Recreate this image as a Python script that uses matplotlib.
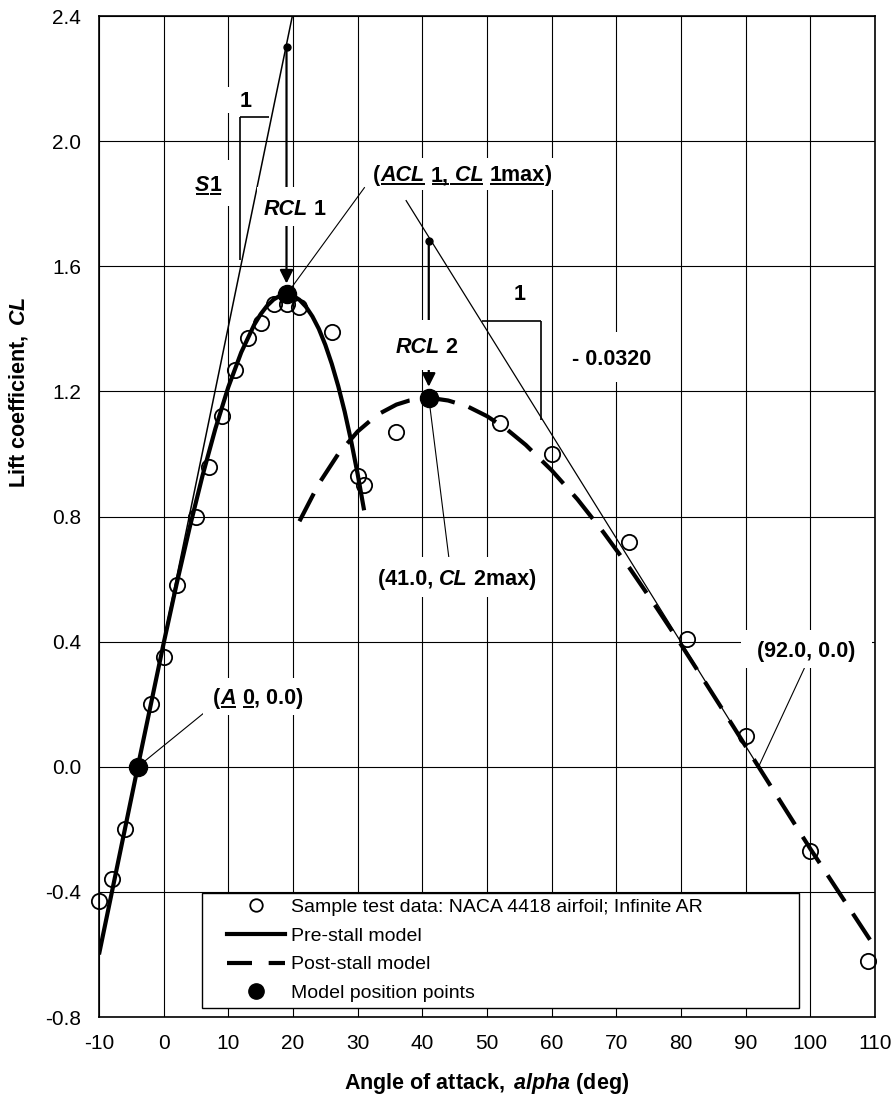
import numpy as np
import matplotlib
matplotlib.use("Agg")
import matplotlib.pyplot as plt
from matplotlib.lines import Line2D
from matplotlib.patches import Rectangle

plt.rcParams["font.family"] = ["Liberation Sans", "DejaVu Sans"]
plt.rcParams["mathtext.fontset"] = "custom"
plt.rcParams["mathtext.rm"] = "Liberation Sans"
plt.rcParams["mathtext.bf"] = "Liberation Sans:bold"
plt.rcParams["mathtext.it"] = "Liberation Sans:italic"
plt.rcParams["mathtext.bfit"] = "Liberation Sans:italic:bold"

# 试验数据 (NACA 4418)
alpha_test = [-10, -8, -6, -2, 0, 2, 5, 7, 9, 11, 13, 15, 17, 19, 21, 26, 30, 31,
              36, 52, 60, 72, 81, 90, 100, 109]
cl_test = [-0.43, -0.36, -0.20, 0.20, 0.35, 0.58, 0.80, 0.96, 1.12, 1.27, 1.37, 1.42,
           1.48, 1.48, 1.47, 1.39, 0.93, 0.90, 1.07, 1.10, 1.00, 0.72, 0.41, 0.10,
           -0.27, -0.62]

# 失速前模型曲线
alpha_pre = [-10, -4, 0, 2, 4, 6, 8, 10, 12, 14, 15, 16, 17, 18, 19, 20, 21, 22, 23,
             24, 25, 26, 27, 28, 29, 30, 31]
cl_pre = [-0.60, 0.00, 0.395, 0.584, 0.763, 0.930, 1.081, 1.214, 1.325, 1.413, 1.447,
          1.474, 1.494, 1.506, 1.510, 1.506, 1.493, 1.471, 1.440, 1.400, 1.349, 1.288,
          1.217, 1.135, 1.041, 0.936, 0.820]

# 失速后模型曲线
alpha_post = [21, 24, 27, 30, 33, 36, 38, 41, 44, 47, 50, 53, 56, 60, 64, 68, 72, 76,
              80, 84, 88, 92, 100, 110]
cl_post = [0.785, 0.905, 1.000, 1.072, 1.125, 1.158, 1.171, 1.180, 1.171, 1.152, 1.121,
           1.080, 1.029, 0.948, 0.855, 0.750, 0.637, 0.516, 0.391, 0.262, 0.132, 0.0,
           -0.262, -0.577]

# 模型位置点
alpha_pts = [-4, 19, 41]
cl_pts = [0.0, 1.51, 1.18]

# 辅助直线 (斜率线)
s1_x = [-10, 19.9]
s1_y = [-0.6, 2.4]
s2_x = [37.5, 92]
s2_y = [1.81, 0.0]
ref_x = [19, 41]
ref_y = [2.30, 1.68]

xticks = [-10, 0, 10, 20, 30, 40, 50, 60, 70, 80, 90, 100, 110]
yticks = [-0.8, -0.4, 0.0, 0.4, 0.8, 1.2, 1.6, 2.0, 2.4]
ytick_labels = ["-0.8", "-0.4", "0.0", "0.4", "0.8", "1.2", "1.6", "2.0", "2.4"]

FS = 15.5  # 图中标注字号

fig = plt.figure(figsize=(8.95, 11.02), dpi=100)
ax = fig.add_axes([0.1106, 0.0771, 0.8670, 0.9083])
ax.set_xlim(-10, 110)
ax.set_ylim(-0.8, 2.4)
ax.set_xticks(xticks)
ax.set_xticklabels([str(t) for t in xticks])
ax.set_yticks(yticks)
ax.set_yticklabels(ytick_labels)
ax.tick_params(axis="both", length=0, labelsize=15)
ax.tick_params(axis="y", pad=13)
ax.tick_params(axis="x", pad=12)
ax.set_axisbelow(True)
ax.grid(True, color="black", lw=0.8)
for sp in ax.spines.values():
    sp.set_linewidth(1.2)

ax.set_xlabel(r"$\mathbf{Angle\ of\ attack,}\ \mathbfit{alpha}\ \mathbf{(deg)}$",
              fontsize=FS, va="center")
ax.xaxis.set_label_coords(0.5, -0.066)
ax.set_ylabel(r"$\mathbf{Lift\ coefficient,}\ \mathbfit{CL}$", fontsize=FS,
              va="center", ha="center")
ax.yaxis.set_label_coords(-0.104, 0.624)

renderer = fig.canvas.get_renderer()
inv = ax.transData.inverted()


def pix_line(p0, p1, lw=1.0, z=2):
    ax.plot([p0[0], p1[0]], [p0[1], p1[1]], color="black", lw=lw, zorder=z,
            solid_capstyle="butt")


def rich(x, y, parts, box=None):
    # parts: (文字, 粗斜体?, 下划线?)
    widths = []
    for s, it, u in parts:
        t = ax.text(0, 0, s, fontsize=FS, fontweight="bold",
                    fontstyle="italic" if it else "normal")
        widths.append(t.get_window_extent(renderer).width)
        t.remove()
    cx, cy = ax.transData.transform((x, y))
    if box is not None:
        bw, bh = box
        x0, y0 = inv.transform((cx - bw / 2, cy - bh / 2))
        x1, y1 = inv.transform((cx + bw / 2, cy + bh / 2))
        ax.add_patch(Rectangle((x0, y0), x1 - x0, y1 - y0, fc="white", ec="none",
                               zorder=3))
    px = cx - sum(widths) / 2
    base = cy - 0.36 * FS * 100 / 72
    for (s, it, u), w in zip(parts, widths):
        tx, ty = inv.transform((px, base))
        ax.text(tx, ty, s, fontsize=FS, fontweight="bold",
                fontstyle="italic" if it else "normal", ha="left", va="baseline",
                zorder=7)
        if u:
            a = inv.transform((px + 1, base - 3))
            b = inv.transform((px + w, base - 3))
            ax.plot([a[0], b[0]], [a[1], b[1]], color="black", lw=1.4, zorder=7,
                    solid_capstyle="butt")
        px += w


# 辅助直线
ax.plot(s1_x, s1_y, color="black", lw=1.1, zorder=2)
ax.plot(s2_x, s2_y, color="black", lw=0.9, zorder=2)
ax.plot(ref_x, ref_y, ls="none", marker="o", ms=5, color="black", zorder=6)

# 斜率三角
pix_line((11.8, 2.076), (16.3, 2.076), 1.2)
pix_line((11.8, 2.076), (11.8, 1.62), 1.2)
pix_line((49.2, 1.426), (58.3, 1.426), 1.2)
pix_line((58.3, 1.426), (58.3, 1.108), 1.2)

# 引线
pix_line((-4, 0.0), (6.4, 0.175), 0.8)
pix_line((19, 1.51), (31.1, 1.853), 0.8)
pix_line((41, 1.18), (44.1, 0.67), 0.8)
pix_line((92, 0.0), (99.1, 0.316), 0.8)

# RCL 箭头
for x0, y0, y1 in [(19, 2.30, 1.545), (41, 1.68, 1.215)]:
    ax.annotate("", xy=(x0, y1), xytext=(x0, y0), zorder=2,
                arrowprops=dict(arrowstyle="-|>", lw=1.6, color="black",
                                mutation_scale=20, shrinkA=0, shrinkB=0))

# 模型曲线与数据
ax.plot(alpha_pre, cl_pre, color="black", lw=3, zorder=4, solid_capstyle="butt")
ax.plot(alpha_post, cl_post, color="black", lw=3, dashes=(7.5, 3.5), zorder=4)
ax.plot(alpha_test, cl_test, ls="none", marker="o", ms=11, mfc="none", mec="black",
        mew=1.3, zorder=5, clip_on=False)
ax.plot(alpha_pts, cl_pts, ls="none", marker="o", ms=13, color="black", zorder=6)

# 文字标注
rich(12.6, 2.133, [("1", False, False)], box=(40, 26))
rich(6.9, 1.866, [("S", True, True), ("1", False, True)], box=(46, 46))
rich(20.3, 1.79, [("RCL", True, False), (" 1", False, False)], box=(75, 39))
rich(46.2, 1.896, [("(", False, False), ("ACL", True, True), (" ", False, False),
                   ("1,", False, True), (" CL", True, True), (" ", False, False),
                   ("1max", False, True), (")", False, False)], box=(190, 32))
rich(40.7, 1.348, [("RCL", True, False), (" 2", False, False)], box=(75, 50))
rich(55.1, 1.518, [("1", False, False)], box=(36, 26))
rich(69.3, 1.31, [("- 0.0320", False, False)], box=(100, 50))
rich(45.4, 0.606, [("(41.0, ", False, False), ("CL", True, False),
                   (" 2max)", False, False)], box=(175, 40))
rich(14.6, 0.226, [("(", False, False), ("A", True, True), (" ", False, False),
                   ("0", False, True), (", 0.0)", False, False)], box=(110, 37))
rich(99.4, 0.376, [("(92.0, 0.0)", False, False)], box=(131, 38))

# 图例
ax.add_patch(Rectangle((0.1327, 0.009), 0.7693, 0.115, transform=ax.transAxes,
                       fc="white", ec="black", lw=1.0, zorder=8))
handles = [
    Line2D([], [], ls="none", marker="o", ms=9, mfc="white", mec="black", mew=1.3),
    Line2D([], [], color="black", lw=3),
    Line2D([], [], color="black", lw=3, dashes=(6, 4)),
    Line2D([], [], ls="none", marker="o", ms=11, color="black"),
]
labels = ["Sample test data: NACA 4418 airfoil; Infinite AR", "Pre-stall model",
          "Post-stall model", "Model position points"]
leg = ax.legend(handles, labels, loc="upper left", bbox_to_anchor=(0.165, 0.1185),
                frameon=False, borderpad=0, borderaxespad=0, fontsize=14,
                handlelength=3.0, handletextpad=0.28, labelspacing=0.57)
leg.set_zorder(9)

fig.savefig("out.png", dpi=100)
